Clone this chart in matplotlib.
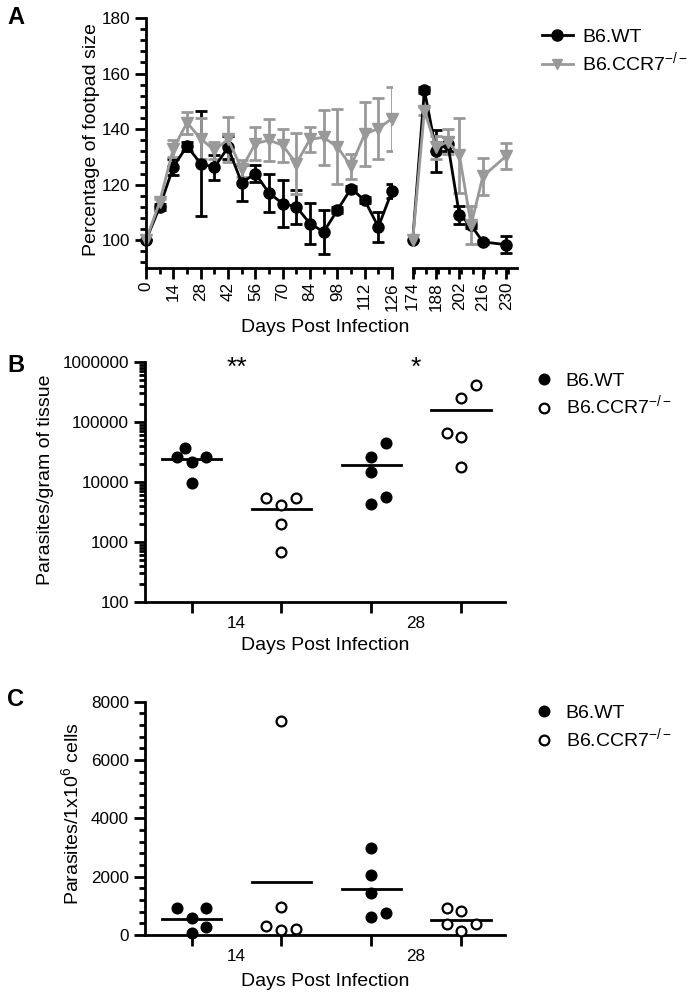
import numpy as np
import matplotlib
matplotlib.use('Agg')
import matplotlib.pyplot as plt
from matplotlib.lines import Line2D
from matplotlib.ticker import MultipleLocator, FixedLocator, LogLocator, FuncFormatter, NullFormatter

plt.rcParams['font.family'] = ['Liberation Sans', 'DejaVu Sans']
plt.rcParams['axes.linewidth'] = 2.0

# ---- Panel A: footpad size over time (two segments of the x axis)
days_1 = [0, 7, 14, 21, 28, 35, 42, 49, 56, 63, 70, 77, 84, 91, 98, 105, 112, 119, 126]
wt_1 = [100, 112, 126.4, 133.9, 127.6, 126.2, 133.4, 120.7, 124, 117, 113.2, 112, 106, 103, 110.8, 118.6, 114.4, 104.8, 117.7]
wt_err_1 = [0, 1, 3, 1.6, 19, 4.6, 4, 6.5, 3, 7, 8.5, 6, 7.3, 8, 1, 1, 1, 5.4, 2.5]
ko_1 = [100, 113.8, 133, 142.3, 136.6, 132.4, 136.3, 125.8, 134.8, 136, 134.2, 127.6, 136.4, 137, 133.6, 126.7, 138.2, 140.2, 143.8]
ko_err_1 = [0, 1, 3, 4, 7.5, 3, 8, 3, 6, 7.5, 6, 11, 4.5, 10, 13.5, 4.5, 11.5, 11, 11.5]

days_2 = [174, 181, 188, 195, 202, 209, 216, 230]
wt_2 = [100, 154, 132.2, 134.8, 109, 105.4, 99.4, 98.4]
wt_err_2 = [0, 1, 7.5, 2.5, 3.3, 1, 0.8, 3]
ko_2 = [100, 146.6, 133.4, 135.5, 130.6, 105.5, 123, 130.3]
ko_err_2 = [0, 1.5, 4, 4.5, 13.5, 6.8, 6.7, 4.6]

# ---- Panel B: parasites per gram of tissue (log scale)
groups = ['WT 14', 'CCR7 14', 'WT 28', 'CCR7 28']
b_wt14 = [36200, 26200, 26200, 21700, 9700]
b_ko14 = [5300, 5300, 4100, 1980, 680]
b_wt28 = [45000, 26200, 14800, 5500, 4270]
b_ko28 = [413000, 248000, 66000, 55300, 17900]
b_stars = ['**', '*']

# ---- Panel C: parasites per 1x10^6 cells
c_wt14 = [915, 915, 593, 264, 79]
c_ko14 = [7350, 970, 308, 171, 205]
c_wt28 = [3000, 2057, 1450, 744, 607]
c_ko28 = [915, 833, 377, 377, 147]

day_labels = ['14', '28']

# horizontal scatter offsets of the dots inside each group (layout only)
b_offsets = [[-0.08, -0.167, 0.16, 0, 0], [-0.167, 0.16, 0, 0, 0],
             [0.163, 0, 0, 0.163, 0], [0.167, 0, -0.16, 0, 0]]
c_offsets = [[-0.16, 0.16, 0, 0.16, 0], [0, 0, -0.167, 0, 0.16],
             [0, 0, 0, 0.163, 0], [-0.16, 0, -0.16, 0.167, 0]]

W, H = 694, 1000
fig = plt.figure(figsize=(W / 100, H / 100), dpi=100)

GRAY = '#999999'
TICK_FS = 12.3
LAB_FS = 14


def fig_box(left, top, right, bottom):
    return [left / W, 1 - bottom / H, (right - left) / W, (bottom - top) / H]


def style_ax(ax):
    ax.spines['top'].set_visible(False)
    ax.spines['right'].set_visible(False)
    ax.tick_params(which='major', direction='out', length=8, width=2, labelsize=TICK_FS)
    ax.tick_params(which='minor', direction='out', length=4.5, width=2)


# Panel A
axA1 = fig.add_axes(fig_box(146, 18, 392, 268))
axA2 = fig.add_axes(fig_box(412.7, 18, 516.7, 268))
for ax, d, wt, we, ko, ke in [(axA1, days_1, wt_1, wt_err_1, ko_1, ko_err_1),
                              (axA2, days_2, wt_2, wt_err_2, ko_2, ko_err_2)]:
    style_ax(ax)
    for y, e, c, m in [(wt, we, 'black', 'o'), (ko, ke, GRAY, 'v')]:
        cont = ax.errorbar(d, y, yerr=e, fmt='-' + m, color=c, ms=8, lw=2,
                           elinewidth=2, capsize=4.5, capthick=2)
        cont.lines[0].set_clip_on(False)
    ax.set_ylim(90, 180)
    ax.xaxis.set_minor_locator(MultipleLocator(7))
    ax.tick_params(axis='x', which='major', pad=2)
axA1.set_xlim(0, 126)
axA1.set_xticks(np.arange(0, 127, 14))
axA1.set_yticks([100, 120, 140, 160, 180])
axA1.yaxis.set_minor_locator(MultipleLocator(4))
axA2.set_xlim(174, 236.3)
axA2.set_xticks(np.arange(174, 231, 14))
axA2.spines['left'].set_visible(False)
axA2.tick_params(axis='y', which='both', left=False, labelleft=False)
for ax in (axA1, axA2):
    plt.setp(ax.get_xticklabels(), rotation=90)

fig.text(92 / W, 1 - 140 / H, 'Percentage of footpad size', rotation=90,
         ha='center', va='center', fontsize=LAB_FS)
fig.text(325 / W, 1 - 327 / H, 'Days Post Infection', ha='center', va='center', fontsize=LAB_FS)

handlesA = [Line2D([], [], color='black', marker='o', lw=2, ms=8),
            Line2D([], [], color=GRAY, marker='v', lw=2, ms=7)]
fig.legend(handlesA, ['B6.WT', 'B6.CCR7$^{\\mathregular{-/-}}$'], loc='upper left',
           bbox_to_anchor=(524 / W, 1 - 11 / H), frameon=False, fontsize=LAB_FS,
           handlelength=1.6, handletextpad=0.5, labelspacing=0.2)


def dot_panel(ax, data, offsets):
    style_ax(ax)
    for i, (vals, offs) in enumerate(zip(data, offsets)):
        filled = i % 2 == 0
        ax.scatter(np.array(offs) + i, vals, s=50, zorder=3, clip_on=False,
                   facecolor='black' if filled else 'white', edgecolor='black', linewidth=1.6)
        ax.plot([i - 0.33, i + 0.33], [np.mean(vals)] * 2, color='black', lw=2)
    ax.set_xlim(-0.52, 3.49)
    ax.xaxis.set_major_locator(FixedLocator(range(len(data))))
    ax.xaxis.set_major_formatter(NullFormatter())
    ax.xaxis.set_minor_locator(FixedLocator([0.5, 2.5]))
    ax.set_xticklabels(day_labels, minor=True)
    ax.tick_params(axis='x', which='minor', length=0, labelsize=TICK_FS, pad=10)


# Panel B
axB = fig.add_axes(fig_box(145, 362, 505, 601.7))
axB.set_yscale('log')
dot_panel(axB, [b_wt14, b_ko14, b_wt28, b_ko28], b_offsets)
axB.set_ylim(100, 1e6)
axB.yaxis.set_major_locator(LogLocator(base=10, numticks=10))
axB.yaxis.set_minor_locator(LogLocator(base=10, subs=np.arange(2, 10), numticks=20))
axB.yaxis.set_major_formatter(FuncFormatter(lambda v, p: f'{v:.0f}'))
axB.yaxis.set_minor_formatter(NullFormatter())
for xi, s in zip([0.5, 2.5], b_stars):
    axB.text(xi, 8.0e5, s, ha='center', va='center', fontsize=19)
fig.text(46 / W, 1 - 480 / H, 'Parasites/gram of tissue', rotation=90,
         ha='center', va='center', fontsize=LAB_FS)
fig.text(325 / W, 1 - 645 / H, 'Days Post Infection', ha='center', va='center', fontsize=LAB_FS)

# Panel C
axC = fig.add_axes(fig_box(145, 701.7, 505, 935))
dot_panel(axC, [c_wt14, c_ko14, c_wt28, c_ko28], c_offsets)
axC.set_ylim(0, 8000)
axC.set_yticks([0, 2000, 4000, 6000, 8000])
axC.yaxis.set_minor_locator(MultipleLocator(400))
fig.text(72 / W, 1 - 813 / H, 'Parasites/1x10$^{\\mathregular{6}}$ cells', rotation=90,
         ha='center', va='center', fontsize=LAB_FS)
fig.text(325 / W, 1 - 982 / H, 'Days Post Infection', ha='center', va='center', fontsize=LAB_FS)

labels_dot = ['B6.WT', 'B6.CCR7$^{\\mathregular{-/-}}$']
handles_dot = [Line2D([], [], ls='none', marker='o', ms=7, mfc='black', mec='black', mew=1.6),
               Line2D([], [], ls='none', marker='o', ms=7, mfc='white', mec='black', mew=1.6)]
for top in (355, 687):
    fig.legend(handles_dot, labels_dot, loc='upper left', bbox_to_anchor=(517 / W, 1 - top / H),
               frameon=False, fontsize=LAB_FS, handlelength=1.0, handletextpad=0.6,
               labelspacing=0.2)

# panel letters
for y, letter in [(17, 'A'), (365, 'B'), (700, 'C')]:
    fig.text(7 / W, 1 - y / H, letter, fontsize=17, fontweight='bold', va='center', ha='left')

fig.savefig('out.png', dpi=100)
